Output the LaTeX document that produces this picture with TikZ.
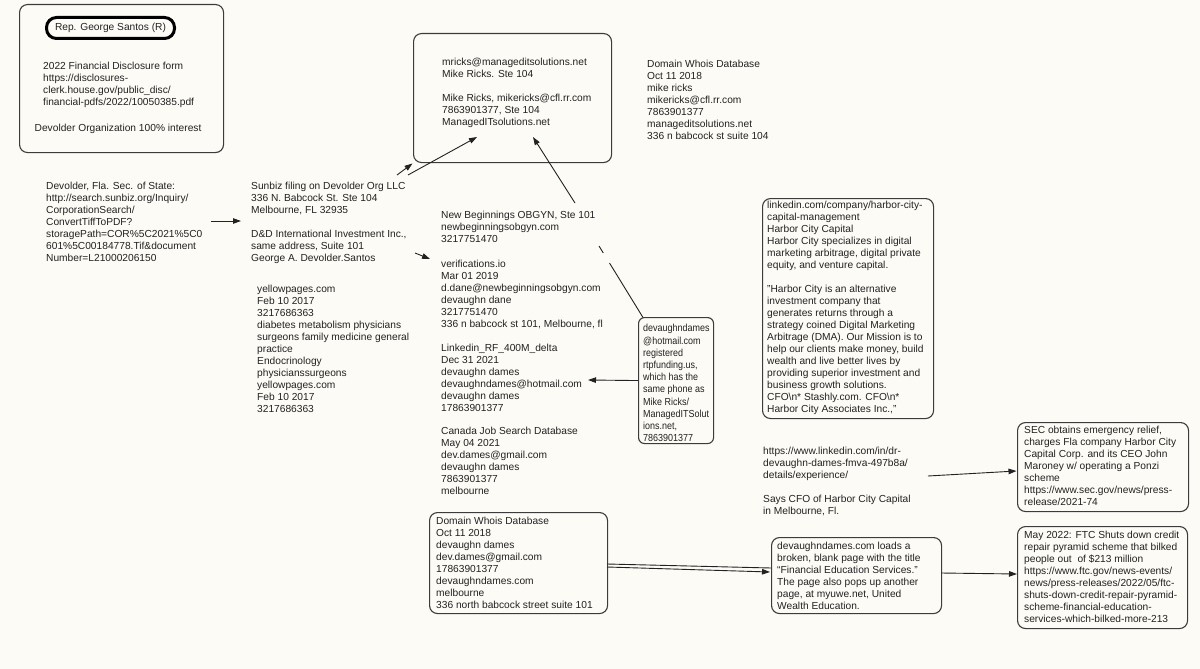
\documentclass[tikz,border=0pt]{standalone}
\usepackage{fontspec}
\setmainfont{Liberation Sans}
\newfontfamily\narrowsans[FakeStretch=0.88]{Liberation Sans}
\usetikzlibrary{arrows.meta,calc}
\definecolor{bg}{RGB}{253,251,245}
\definecolor{ink}{RGB}{34,34,34}
\definecolor{edge}{RGB}{60,60,60}
\begin{document}
\begin{tikzpicture}[x=1pt,y=-1pt,
  txt/.style={anchor=north west, inner sep=0pt, align=left, font=\fontsize{10.2}{12}\selectfont, text=ink},
  box/.style={draw=edge, line width=1.1pt, rounded corners=8pt, fill=bg, anchor=north west, inner sep=0pt},
  arr/.style={draw=ink, line width=0.9pt, -{Triangle[length=8pt,width=5.5pt]}},
  ln/.style={draw=ink, line width=0.9pt}]
\fill[bg] (0,0) rectangle (1200,669);
\useasboundingbox (0,0) rectangle (1200,669);

% ---- boxes ----
\node[box, minimum width=204pt, minimum height=148pt] (b1) at (19,4) {};
\node[draw=black, line width=3pt, rounded corners=10pt, minimum width=128pt, minimum height=21pt, inner sep=0pt, fill=bg, font=\fontsize{10.2}{12}\selectfont, text=ink] (pill) at (110.5,28) {Rep. George Santos (R)};
\node[box, minimum width=198pt, minimum height=129pt] (b2) at (413,33) {};
\node[box, rounded corners=6pt, minimum width=75pt, minimum height=126pt] (bdd) at (638,317) {};
\node[box, minimum width=171pt, minimum height=220pt] (bhc) at (762,198) {};
\node[box, minimum width=171pt, minimum height=89pt] (bsec) at (1017,422) {};
\node[box, minimum width=170pt, minimum height=102pt] (bftc) at (1017,526) {};
\node[box, minimum width=170pt, minimum height=76pt] (bddcom) at (771,537) {};
\node[box, minimum width=178pt, minimum height=101pt] (bwhois) at (429,512) {};

% ---- texts ----
\node[txt] (t1a) at (43,62) {2022 Financial Disclosure form\\https://disclosures-\\clerk.house.gov/public\_disc/\\financial-pdfs/2022/10050385.pdf};
\node[txt] (t1b) at (34.5,124.3) {Devolder Organization 100\% interest};
\node[txt] (t2) at (442,58.3) {mricks@manageditsolutions.net\\Mike Ricks. Ste 104\\[12pt]Mike Ricks, mikericks@cfl.rr.com\\7863901377, Ste 104\\ManagedITsolutions.net};
\node[txt] (twhois1) at (647,60.3) {Domain Whois Database\\Oct 11 2018\\mike ricks\\mikericks@cfl.rr.com\\7863901377\\manageditsolutions.net\\336 n babcock st suite 104};
\node[txt] (tdevolder) at (46,182.3) {Devolder, Fla. Sec. of State:\\http://search.sunbiz.org/Inquiry/\\CorporationSearch/\\ConvertTiffToPDF?\\storagePath=COR\%5C2021\%5C0\\601\%5C00184778.Tif\&document\\Number=L21000206150};
\node[txt] (tsunbiz) at (251,182.3) {Sunbiz filing on Devolder Org LLC\\336 N. Babcock St. Ste 104\\Melbourne, FL 32935\\[12pt]D\&D International Investment Inc.,\\same address, Suite 101\\George A. Devolder.Santos};
\node[txt] (tyellow) at (257,285.3) {yellowpages.com\\Feb 10 2017\\3217686363\\diabetes metabolism physicians\\surgeons family medicine general\\practice\\Endocrinology\\physicianssurgeons\\yellowpages.com\\Feb 10 2017\\3217686363};
\node[txt] (tnewbeg) at (441,211.3) {New Beginnings OBGYN, Ste 101\\newbeginningsobgyn.com\\3217751470};
\node[txt] (tverif) at (441,260.3) {verifications.io\\Mar 01 2019\\d.dane@newbeginningsobgyn.com\\devaughn dane\\3217751470\\336 n babcock st 101, Melbourne, fl};
\node[txt] (tlinked) at (441,344.3) {Linkedin\_RF\_400M\_delta\\Dec 31 2021\\devaughn dames\\devaughndames@hotmail.com\\devaughn dames\\17863901377};
\node[txt] (tcanada) at (441,427.3) {Canada Job Search Database\\May 04 2021\\dev.dames@gmail.com\\devaughn dames\\7863901377\\melbourne};
\node[txt, font=\narrowsans\fontsize{10.2}{12.2}\selectfont] (tdd) at (643,324.3) {devaughndames\\@hotmail.com\\registered\\rtpfunding.us,\\which has the\\same phone as\\Mike Ricks/\\ManagedITSolut\\ions.net,\\7863901377};
\node[txt] (thc) at (767,201.3) {linkedin.com/company/harbor-city-\\capital-management\\Harbor City Capital\\Harbor City specializes in digital\\marketing arbitrage, digital private\\equity, and venture capital.\\[12pt]"Harbor City is an alternative\\investment company that\\generates returns through a\\strategy coined Digital Marketing\\Arbitrage (DMA). Our Mission is to\\help our clients make money, build\\wealth and live better lives by\\providing superior investment and\\business growth solutions.\\CFO\textbackslash n* Stashly.com. CFO\textbackslash n*\\Harbor City Associates Inc.,"};
\node[txt] (tlnk2) at (763,447.3) {https://www.linkedin.com/in/dr-\\devaughn-dames-fmva-497b8a/\\details/experience/\\[12pt]Says CFO of Harbor City Capital\\in Melbourne, Fl.};
\node[txt] (tsec) at (1024,426.3) {SEC obtains emergency relief,\\charges Fla company Harbor City\\Capital Corp. and its CEO John\\Maroney w/ operating a Ponzi\\scheme\\https://www.sec.gov/news/press-\\release/2021-74};
\node[txt] (tftc) at (1024,531.3) {May 2022: FTC Shuts down credit\\repair pyramid scheme that bilked\\people out\ \ of \$213 million\\https://www.ftc.gov/news-events/\\news/press-releases/2022/05/ftc-\\shuts-down-credit-repair-pyramid-\\scheme-financial-education-\\services-which-bilked-more-213};
\node[txt] (tddcom) at (777,542.3) {devaughndames.com loads a\\broken, blank page with the title\\“Financial Education Services.”\\The page also pops up another\\page, at myuwe.net, United\\Wealth Education.};
\node[txt] (twhois2) at (436,517.3) {Domain Whois Database\\Oct 11 2018\\devaughn dames\\dev.dames@gmail.com\\17863901377\\devaughndames.com\\melbourne\\336 north babcock street suite 101};

% ---- connector ends ----
\coordinate (c1s) at (211,221);
\coordinate (c1e) at (241,221);
\coordinate (c2s) at (397,175);
\coordinate (c2e) at (412.5,163.5);
\coordinate (c3s) at (408,175);
\coordinate (c3e) at (477,137);
\coordinate (c4s) at (575,203);
\coordinate (c4e) at (533,137);
\coordinate (c5s) at (415,253);
\coordinate (c5e) at (430,259);
\coordinate (c6a) at (643,317.5);
\coordinate (c6b) at (609.5,263);
\coordinate (c6c) at (603.3,253);
\coordinate (c6d) at (599,246);
\coordinate (c7e) at (588,380);
\coordinate (c8s) at (928,476);
\coordinate (c8e) at (1016.5,471);
\coordinate (c9s) at (607,564);
\coordinate (c9e) at (771,568);
\coordinate (c10s) at (607,567);
\coordinate (c10e) at (770,572);
\coordinate (c11s) at (941,573);
\coordinate (c11e) at (1017,574);

% ---- connectors ----
\draw[arr] (c1s) -- (c1e);
\draw[arr] (c2s) -- (c2e);
\draw[arr] (c3s) -- (c3e);
\draw[arr] (c4s) -- (c4e);
\draw[arr] (c5s) -- (c5e);
\draw[ln] (c6a) -- (c6b);
\draw[ln] (c6c) -- (c6d);
\draw[arr] (bdd.west) -- (c7e);
\draw[arr] (c8s) -- (c8e);
\draw[ln] (c9s) -- (c9e);
\draw[arr] (c10s) -- (c10e);
\draw[arr] (c11s) -- (c11e);
\end{tikzpicture}
\end{document}
